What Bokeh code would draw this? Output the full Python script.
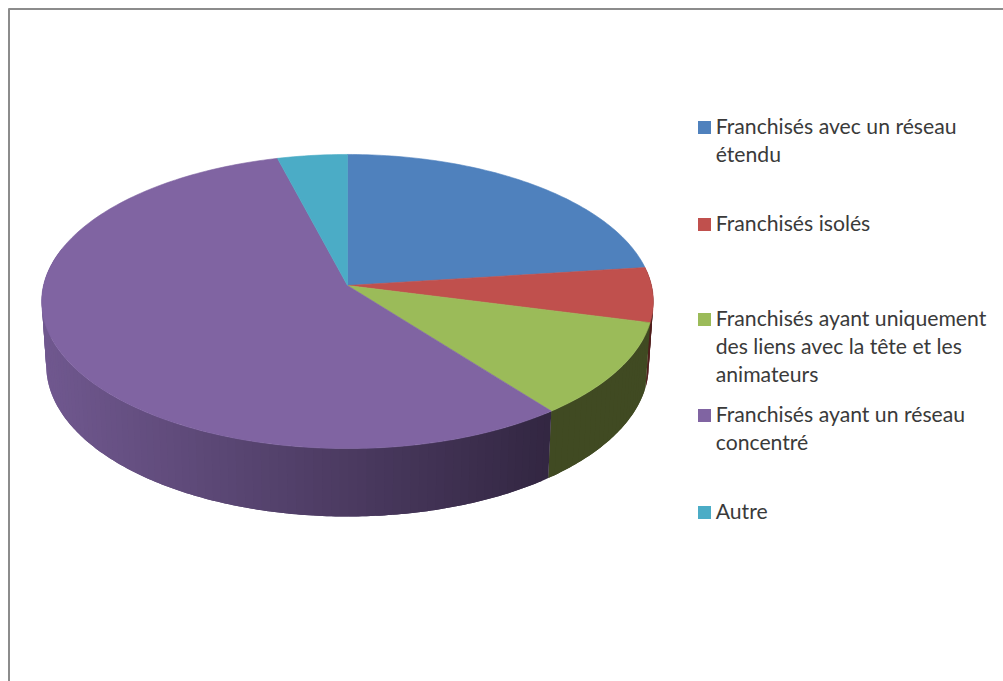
import numpy as np
from bokeh.plotting import figure
from bokeh.models import ColumnDataSource
from bokeh.core.properties import value
from bokeh.embed import file_html
from bokeh.resources import INLINE

categories = ["Franchisés avec un réseau étendu", "Franchisés isolés",
              "Franchisés ayant uniquement des liens avec la tête et les animateurs",
              "Franchisés ayant un réseau concentré", "Autre"]
values = [23.0, 6.0, 10.5, 56.4, 4.1]
colors = ["#4F81BD", "#C0504D", "#9BBB59", "#8064A2", "#4BACC6"]
legend_lines = [["Franchisés avec un réseau", "étendu"], ["Franchisés isolés"],
                ["Franchisés ayant uniquement", "des liens avec la tête et les", "animateurs"],
                ["Franchisés ayant un réseau", "concentré"], ["Autre"]]
legend_line_y = [[127, 155], [224], [319, 347, 375], [415, 443], [512]]

W, H = 1003, 681
CX, AY, CY = 347, 285, 301
C, A, B = 304.0, 145.3, -0.1088


def proj(ang):
    u, v = np.sin(ang), -np.cos(ang)
    d = 1 + B * v
    return C * u / d, A * v / d  # relative to apex


def top_xy(ang):
    x, y = proj(ang)
    return CX + x, AY + y


def bot_xy(ang):
    x, y = proj(ang)
    ey = y + (AY - CY)
    return CX + 0.985 * x, CY + 64 + 1.027 * ey


def mix(a, b, t):
    return "#%02x%02x%02x" % tuple(int(round(a[i] + (b[i] - a[i]) * t)) for i in range(3))


p = figure(width=W, height=H, x_range=(0, W), y_range=(H, 0),
           toolbar_location=None, output_backend="svg", min_border=0,
           x_axis_location=None, y_axis_location=None)
p.grid.visible = False
p.outline_line_color = None

# frame (top and left only)
p.segment([8, 8.5], [8.5, 8], [W, 8.5], [8.5, H], line_color="#8c8c8c", line_width=2)

edges = np.cumsum([0] + values) / sum(values) * 2 * np.pi

wall_cols = {1: ((80, 30, 28), (80, 30, 28)),
             2: ((64, 74, 34), (64, 74, 34)),
             3: ((112, 88, 143), (50, 38, 65))}

# outer walls; each band runs on under the next one so no seams show
xs, ys, fc = [], [], []
for i, (lo, hi) in wall_cols.items():
    end = min(edges[i + 1], np.radians(285))
    n = max(2, int((end - edges[i]) / np.radians(1.5)))
    a = np.linspace(edges[i], end, n + 1)
    for j in range(n):
        sub = np.linspace(a[j], a[min(j + 2, n)], 5)
        tx, ty = top_xy(sub)
        bx, by = bot_xy(sub)
        xs.append(list(tx) + list(bx[::-1]))
        ys.append(list(ty) + list(by[::-1]))
        t = np.clip((tx.mean() - 41) / (551 - 41), 0, 1) if i == 3 else 0.5
        fc.append(mix(lo, hi, t))
p.patches(xs="xs", ys="ys", fill_color="fc", line_color=None,
          source=ColumnDataSource(dict(xs=xs, ys=ys, fc=fc)))

# top face
for i, c in enumerate(colors):
    a = np.linspace(edges[i], edges[i + 1], max(8, int((edges[i + 1] - edges[i]) / np.radians(1))))
    tx, ty = top_xy(a)
    p.patch([CX] + list(tx), [AY] + list(ty), fill_color=c, line_color=c, line_width=0.6)

# legend
for c, lines, ypos in zip(colors, legend_lines, legend_line_y):
    p.scatter([704], [ypos[0]], size=13, marker="square", fill_color=c, line_color=None)
    p.text([715.2] * len(lines), [y - 1.5 for y in ypos], text=lines,
           text_font=value("Lato"), text_font_size="21.2px", text_color="#3a3a3a",
           text_baseline="middle", text_align="left")

open("out.html", "w").write(file_html(p, INLINE))
